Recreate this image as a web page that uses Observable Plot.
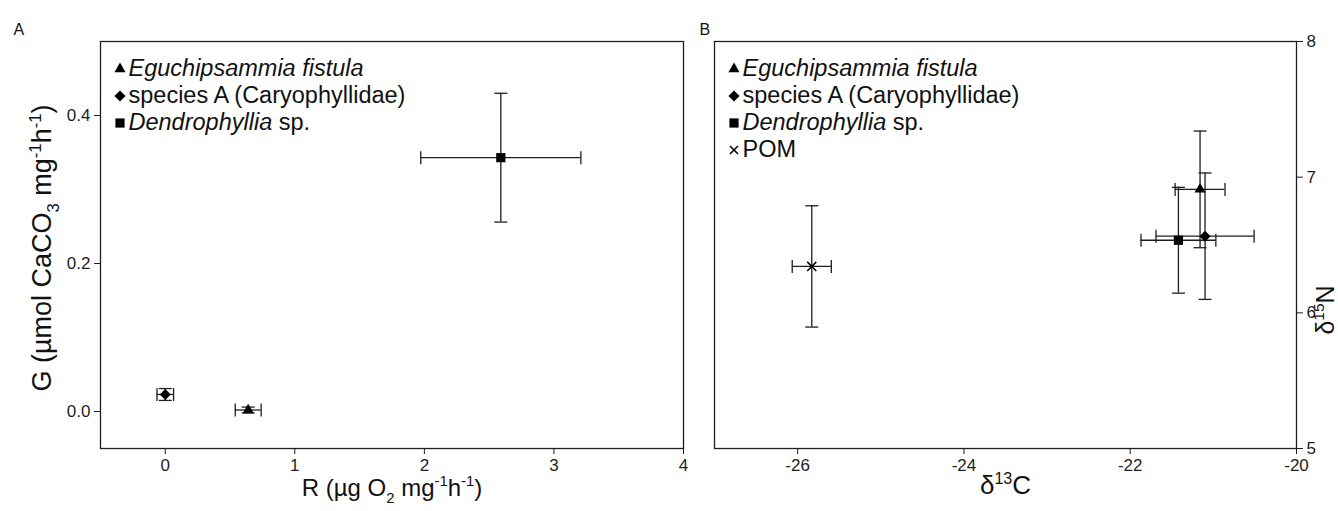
<!DOCTYPE html>
<html><head><meta charset="utf-8">
<script src="https://cdn.jsdelivr.net/npm/d3@7"></script>
<script src="https://cdn.jsdelivr.net/npm/@observablehq/plot@0.6"></script>
<style>
body{margin:0;background:#fff;overflow:hidden}
#wrap{display:flex;width:1338px;height:511px}
</style></head>
<body><div id="wrap"></div>
<script>
// ---------- data ----------
// Panel A: respiration (R) vs calcification (G)
const speciesA = ["Eguchipsammia fistula", "species A (Caryophyllidae)", "Dendrophyllia sp."];
const respR    = [0.64, 0.00, 2.59];
const respRErr = [0.10, 0.064, 0.618];
const calcG    = [0.002, 0.023, 0.343];
const calcGErr = [0.004, 0.008, 0.087];
const xTicksA = [0, 1, 2, 3, 4];
const yTicksA = [0.0, 0.2, 0.4];
const xDomainA = [-0.5, 4];
const yDomainA = [-0.05, 0.5];

// Panel B: stable isotopes
const speciesB = ["Eguchipsammia fistula", "species A (Caryophyllidae)", "Dendrophyllia sp.", "POM"];
const d13C    = [-21.16, -21.10, -21.42, -25.83];
const d13CErr = [0.30, 0.59, 0.45, 0.235];
const d15N    = [6.91, 6.565, 6.535, 6.342];
const d15NErr = [0.43, 0.466, 0.39, 0.447];
const xTicksB = [-26, -24, -22, -20];
const yTicksB = [5, 6, 7, 8];
const xDomainB = [-27, -20];
const yDomainB = [5, 8];

// ---------- styles ----------
const SANS = '"Liberation Sans", Arial, sans-serif';
const NARROW = '"Liberation Sans Narrow", "Liberation Sans", Arial, sans-serif';
const INK = "#1e1e1e";
const symbolOf = {
  "Eguchipsammia fistula": {type: "triangle", r: 4.1, d3t: d3.symbolTriangle},
  "species A (Caryophyllidae)": {type: "diamond2", r: 5.0, d3t: d3.symbolDiamond2},
  "Dendrophyllia sp.": {type: "square", r: 5.2, d3t: d3.symbolSquare},
  "POM": {type: "times", r: 4.2, d3t: d3.symbolTimes, stroke: true}
};
const italicPart = {"Eguchipsammia fistula": "Eguchipsammia fistula", "Dendrophyllia sp.": "Dendrophyllia"};

const vCap = {draw(ctx, size){const h = Math.sqrt(size/Math.PI); ctx.moveTo(0,-h); ctx.lineTo(0,h);}};
const hCap = {draw(ctx, size){const h = Math.sqrt(size/Math.PI); ctx.moveTo(-h,0); ctx.lineTo(h,0);}};

function errorMarks(rows){
  const s = {stroke: INK, strokeWidth: 1.3};
  return [
    Plot.ruleY(rows, {y: "y", x1: d => d.x - d.xe, x2: d => d.x + d.xe, ...s}),
    Plot.ruleX(rows, {x: "x", y1: d => d.y - d.ye, y2: d => d.y + d.ye, ...s}),
    Plot.dot(rows, {x: d => d.x - d.xe, y: "y", symbol: vCap, r: 6.5, fill: "none", ...s}),
    Plot.dot(rows, {x: d => d.x + d.xe, y: "y", symbol: vCap, r: 6.5, fill: "none", ...s}),
    Plot.dot(rows, {x: "x", y: d => d.y - d.ye, symbol: hCap, r: 6.5, fill: "none", ...s}),
    Plot.dot(rows, {x: "x", y: d => d.y + d.ye, symbol: hCap, r: 6.5, fill: "none", ...s})
  ];
}
function markerMarks(rows, names){
  return names.map(n => {
    const m = symbolOf[n];
    const sub = rows.filter(d => d.sp === n);
    return m.stroke
      ? Plot.dot(sub, {x: "x", y: "y", symbol: m.type, r: m.r, stroke: "#000", strokeWidth: 1.5, fill: "none"})
      : Plot.dot(sub, {x: "x", y: "y", symbol: m.type, r: m.r, fill: "#000", stroke: "none"});
  });
}
function addLegend(svg, names, ml, mt){
  const g = d3.select(svg).append("g").attr("transform", `translate(${ml + 20},${mt + 35})`);
  names.forEach((n, i) => {
    const m = symbolOf[n];
    const row = g.append("g").attr("transform", `translate(0,${i * 27})`);
    const p = row.append("path")
      .attr("d", d3.symbol(m.d3t, Math.PI * m.r * m.r * (m.stroke ? 0.8 : 1))())
      .attr("transform", "translate(0,-7)");
    if (m.stroke) p.attr("fill", "none").attr("stroke", "#000").attr("stroke-width", 1.5);
    else p.attr("fill", "#000");
    const t = row.append("text").attr("x", 8.5).attr("text-anchor", "start")
      .attr("font-family", SANS).attr("font-size", 23.5).attr("fill", "#111");
    const it = italicPart[n];
    if (it) {
      t.append("tspan").attr("font-style", "italic").text(it);
      const rest = n.slice(it.length);
      if (rest) t.append("tspan").text(rest);
    } else t.text(n);
  });
}
function rich(svg, key, segs, fs){
  d3.select(svg).selectAll("text").filter(function(){ return this.textContent === key; }).each(function(){
    const t = d3.select(this); t.text(null);
    let shift = 0;
    segs.forEach(([s, k]) => {
      const target = k === "sub" ? 0.3 * fs : k === "sup" ? -0.38 * fs : 0;
      const ts = t.append("tspan").text(s);
      if (target - shift !== 0) ts.attr("dy", target - shift);
      if (k) ts.attr("font-size", 0.62 * fs);
      shift = target;
    });
  });
}

const H = 511, MT = 41, MB = 63;
const style = {fontFamily: NARROW, fontSize: "17px", color: INK, background: "white", overflow: "visible"};

// ---------- panel A ----------
const rowsA = speciesA.map((s, i) => ({sp: s, x: respR[i], xe: respRErr[i], y: calcG[i], ye: calcGErr[i]}));
const WA = 695, MLA = 100, MRA = 12;
const plotA = Plot.plot({
  width: WA, height: H, marginLeft: MLA, marginRight: MRA, marginTop: MT, marginBottom: MB,
  style,
  x: {domain: xDomainA}, y: {domain: yDomainA},
  marks: [
    Plot.frame({stroke: INK, strokeWidth: 1.3}),
    Plot.axisX({ticks: xTicksA, tickSize: 6, tickPadding: 4, tickFormat: d => String(d), label: null, fontSize: 17}),
    Plot.axisY({ticks: yTicksA, tickSize: 6, tickPadding: 4, tickFormat: d3.format(".1f"), label: null, fontSize: 17}),
    ...errorMarks(rowsA),
    ...markerMarks(rowsA, speciesA),
    Plot.text(["TITLE_XA"], {text: d => d, frameAnchor: "bottom", dy: 47, fontSize: 24, fontFamily: SANS, fill: "#111"}),
    Plot.text(["TITLE_YA"], {text: d => d, frameAnchor: "left", dx: -58, dy: 3, rotate: -90, textAnchor: "middle", fontSize: 27, fontFamily: SANS, fill: "#111"}),
    Plot.text(["A"], {text: d => d, frameAnchor: "top-left", dx: -87, dy: -18, textAnchor: "start", fontSize: 16, fontFamily: SANS, fill: "#111"})
  ]
});
addLegend(plotA, speciesA, MLA, MT);
rich(plotA, "TITLE_XA", [["R (µg O"], ["2", "sub"], [" mg"], ["-1", "sup"], ["h"], ["-1", "sup"], [")"]], 24);
rich(plotA, "TITLE_YA", [["G (µmol CaCO"], ["3", "sub"], [" mg"], ["-1", "sup"], ["h"], ["-1", "sup"], [")"]], 27);

// ---------- panel B ----------
const rowsB = speciesB.map((s, i) => ({sp: s, x: d13C[i], xe: d13CErr[i], y: d15N[i], ye: d15NErr[i]}));
const WB = 1338 - WA, MLB = 714 - WA, MRB = WB - (1296 - WA);
const plotB = Plot.plot({
  width: WB, height: H, marginLeft: MLB, marginRight: MRB, marginTop: MT, marginBottom: MB,
  style,
  x: {domain: xDomainB}, y: {domain: yDomainB},
  marks: [
    Plot.frame({stroke: INK, strokeWidth: 1.3}),
    Plot.axisX({ticks: xTicksB, tickSize: 6, tickPadding: 4, tickFormat: d => String(d), label: null, fontSize: 17}),
    Plot.axisY({anchor: "right", ticks: yTicksB, tickSize: 6, tickPadding: 4, tickFormat: d => String(d), label: null, fontSize: 17}),
    ...errorMarks(rowsB),
    ...markerMarks(rowsB, speciesB),
    Plot.text(["TITLE_XB"], {text: d => d, frameAnchor: "bottom", dy: 45, fontSize: 26, fontFamily: SANS, fill: "#111"}),
    Plot.text(["TITLE_YB"], {text: d => d, frameAnchor: "right", dx: 29, dy: 65, rotate: -90, textAnchor: "middle", fontSize: 25, fontFamily: SANS, fill: "#111"}),
    Plot.text(["B"], {text: d => d, frameAnchor: "top-left", dx: -15, dy: -18, textAnchor: "start", fontSize: 16, fontFamily: SANS, fill: "#111"})
  ]
});
addLegend(plotB, speciesB, MLB, MT);
rich(plotB, "TITLE_XB", [["δ"], ["13", "sup"], ["C"]], 26);
rich(plotB, "TITLE_YB", [["δ"], ["15", "sup"], ["N"]], 25);

document.getElementById("wrap").append(plotA, plotB);
</script>
</body></html>
